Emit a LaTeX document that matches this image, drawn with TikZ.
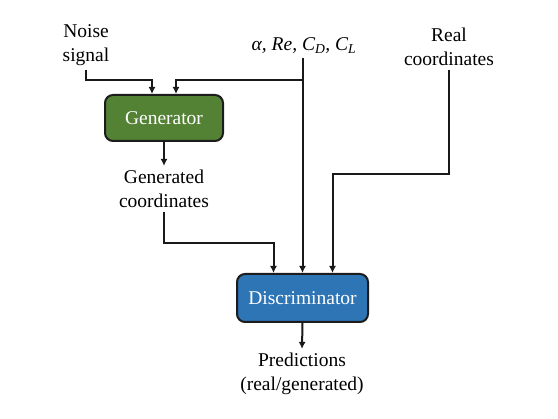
\documentclass[tikz,border=0pt]{standalone}
\usepackage{fontspec}
\setmainfont{Liberation Serif}
\usetikzlibrary{arrows.meta}
\definecolor{gengreen}{HTML}{548235}
\definecolor{discblue}{HTML}{2E75B6}
\definecolor{boxline}{HTML}{1C1C1C}
\tikzset{
  blockbox/.style={draw=boxline, line width=2pt, rounded corners=8pt, text=white, inner sep=0pt},
  lbl/.style={align=center, inner sep=4pt},
  arr/.style={line width=2pt, draw=black!90, -{Latex[length=7pt,width=7pt]}},
}
\begin{document}
\begin{tikzpicture}[x=1pt,y=-1pt,font=\rmfamily\fontsize{19.5}{24}\selectfont]
\useasboundingbox (0,0) rectangle (558,419);
% labels
\node[lbl] (noise) at (86,45) {Noise\\signal};
\node[lbl] (params) at (304,46) {\itshape α, Re, C\textsubscript{D}, C\textsubscript{L}};
\node[lbl] (real) at (449,47) {Real\\coordinates};
\node[lbl] (gent) at (164,189) {Generated\\coordinates};
\node[lbl] (pred) at (302,374) {Predictions\\(real/generated)};
% blocks
\node[blockbox, fill=gengreen, minimum width=118pt, minimum height=46pt] (gen) at (164,118) {Generator};
\node[blockbox, fill=discblue, minimum width=131pt, minimum height=48pt] (disc) at (302.5,298) {Discriminator};
% helper coordinates
\coordinate (row1) at (0,80);
\coordinate (row2) at (0,174);
\coordinate (row3) at (0,243);
\coordinate (gin1) at ([xshift=-12pt]gen.north);
\coordinate (gin2) at ([xshift=12pt]gen.north);
\coordinate (din1) at ([xshift=-29pt]disc.north);
\coordinate (din3) at ([xshift=30pt]disc.north);
% connectors
\draw[arr] (noise.south) |- (gin1 |- row1) -- (gin1);
\draw[arr] (params.south -| disc.north) -- (disc.north);
\draw[arr] (disc.north |- row1) -| (gin2);
\draw[arr] (gen.south) -- (gent.north);
\draw[arr] (gent.south) |- (din1 |- row3) -- (din1);
\draw[arr] (real.south) |- (din3 |- row2) -- (din3);
\draw[arr] (disc.south) -- (pred.north);
\end{tikzpicture}
\end{document}
